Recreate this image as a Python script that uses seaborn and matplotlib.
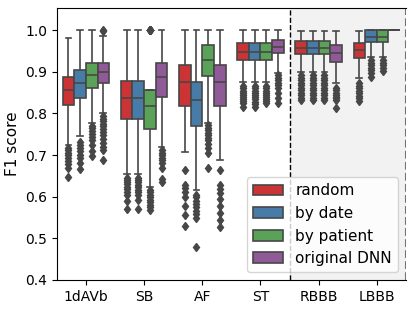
import numpy as np
import pandas as pd
import seaborn as sns
import matplotlib.pyplot as plt

categories = ["1dAVb", "SB", "AF", "ST", "RBBB", "LBBB"]
methods = ["random", "by date", "by patient", "original DNN"]

# box summaries, one row per category, one column per method
q1 = [[0.821, 0.838, 0.862, 0.872],
      [0.786, 0.786, 0.762, 0.840],
      [0.817, 0.769, 0.889, 0.817],
      [0.928, 0.928, 0.928, 0.944],
      [0.942, 0.942, 0.942, 0.924],
      [0.932, 0.972, 0.972, 1.000]]
med = [[0.857, 0.874, 0.893, 0.900],
       [0.838, 0.838, 0.817, 0.888],
       [0.876, 0.832, 0.928, 0.876],
       [0.948, 0.948, 0.948, 0.960],
       [0.958, 0.958, 0.958, 0.944],
       [0.952, 0.984, 0.984, 1.000]]
q3 = [[0.888, 0.905, 0.922, 0.922],
      [0.878, 0.878, 0.857, 0.922],
      [0.916, 0.876, 0.964, 0.916],
      [0.968, 0.968, 0.968, 0.976],
      [0.974, 0.974, 0.974, 0.964],
      [0.970, 1.000, 1.000, 1.000]]
whis_lo = [[0.725, 0.745, 0.778, 0.800],
           [0.655, 0.655, 0.622, 0.720],
           [0.707, 0.615, 0.778, 0.688],
           [0.876, 0.876, 0.876, 0.898],
           [0.900, 0.900, 0.900, 0.872],
           [0.884, 0.936, 0.936, 1.000]]
whis_hi = [[0.980, 1.000, 1.000, 0.986],
           [1.000, 1.000, 1.000, 1.000],
           [1.000, 1.000, 1.000, 1.000],
           [1.000, 1.000, 1.000, 1.000],
           [0.998, 0.998, 0.998, 0.998],
           [0.998, 1.000, 1.000, 1.000]]
fliers = [
    [[0.718, 0.712, 0.706, 0.700, 0.694, 0.686, 0.678, 0.668, 0.648],
     [0.732, 0.725, 0.718, 0.710, 0.700, 0.692, 0.682, 0.666],
     [0.770, 0.764, 0.757, 0.750, 0.743, 0.736, 0.724, 0.709, 0.698],
     [1.000, 0.999, 0.793, 0.787, 0.781, 0.775, 0.769, 0.762, 0.755,
      0.747, 0.739, 0.730, 0.720, 0.711, 0.689]],
    [[0.645, 0.640, 0.635, 0.630, 0.624, 0.618, 0.612, 0.604, 0.590, 0.570],
     [0.645, 0.640, 0.634, 0.628, 0.622, 0.616, 0.610, 0.603, 0.592, 0.570],
     [0.615, 0.610, 0.604, 0.598, 0.592, 0.586, 0.580, 0.574, 0.567],
     [0.713, 0.706, 0.700, 0.694, 0.688, 0.681, 0.668, 0.643, 0.636]],
    [[0.665, 0.628, 0.620, 0.612, 0.598, 0.578, 0.555, 0.530],
     [0.605, 0.598, 0.590, 0.582, 0.574, 0.566, 0.558, 0.548, 0.479],
     [0.772, 0.766, 0.760, 0.754, 0.748, 0.742, 0.735, 0.726, 0.716,
      0.704, 0.668],
     [0.665, 0.628, 0.618, 0.608, 0.595, 0.578, 0.560, 0.545, 0.528]],
    [[0.866, 0.860, 0.855, 0.850, 0.845, 0.840, 0.835, 0.830, 0.824, 0.816],
     [0.866, 0.860, 0.855, 0.850, 0.845, 0.840, 0.834, 0.828, 0.822, 0.816],
     [0.866, 0.860, 0.855, 0.850, 0.845, 0.840, 0.835, 0.830, 0.824],
     [0.892, 0.886, 0.880, 0.874, 0.868, 0.862, 0.850, 0.837, 0.826]],
    [[0.892, 0.886, 0.880, 0.874, 0.868, 0.862, 0.856, 0.850, 0.844, 0.838, 0.832],
     [0.892, 0.886, 0.880, 0.874, 0.868, 0.862, 0.856, 0.850, 0.844, 0.838, 0.832],
     [0.892, 0.886, 0.880, 0.874, 0.868, 0.862, 0.856, 0.850, 0.844, 0.838, 0.832],
     [0.862, 0.856, 0.850, 0.845, 0.840, 0.836, 0.832, 0.814]],
    [[0.872, 0.866, 0.860, 0.854, 0.848, 0.842, 0.836, 0.830],
     [0.928, 0.922, 0.916, 0.910, 0.904, 0.896, 0.888],
     [0.928, 0.922, 0.916, 0.910, 0.903],
     []],
]

# rebuild samples whose quartiles, whiskers and fliers match the summaries
rows = []
m = 60
for i, cat in enumerate(categories):
    for j, meth in enumerate(methods):
        fl = fliers[i][j]
        n_lo = sum(1 for v in fl if v < q1[i][j])
        n_hi = len(fl) - n_lo
        vals = (list(fl) + [whis_lo[i][j]] * (1 + n_hi) + [q1[i][j]] * m
                + [med[i][j]] * m + [q3[i][j]] * m + [whis_hi[i][j]] * (1 + n_lo))
        for v in vals:
            rows.append({"category": cat, "method": meth, "score": v})
df = pd.DataFrame(rows)

fig, ax = plt.subplots(figsize=(4.15, 3.11), dpi=100)
fig.subplots_adjust(left=0.137, right=0.978, top=0.974, bottom=0.1)

# shaded region for the last two classes
ax.axvspan(3.5, 5.5, facecolor="#f2f2f2", edgecolor="none", zorder=0)
ax.axvline(3.5, color="k", ls="--", lw=1, zorder=0.5)
ax.axvline(5.5, color="0.45", ls="--", lw=1.5, zorder=0.5)

sns.boxplot(data=df, x="category", y="score", hue="method", order=categories,
            hue_order=methods, palette="Set1", linecolor="#474747", linewidth=1.2,
            flierprops=dict(marker="d", markerfacecolor="#474747",
                            markeredgecolor="#474747", markersize=4.5),
            ax=ax)

ax.set_xlim(-0.5, 5.5)
ax.set_ylim(0.4, 1.053)
ax.set_yticks([0.4, 0.5, 0.6, 0.7, 0.8, 0.9, 1.0])
ax.set_xlabel("")
ax.set_ylabel("F1 score", fontsize=11)
ax.tick_params(labelsize=10)
ax.spines["right"].set_visible(False)
ax.legend(loc="lower right", fontsize=11)

fig.savefig("out.png", dpi=100)
